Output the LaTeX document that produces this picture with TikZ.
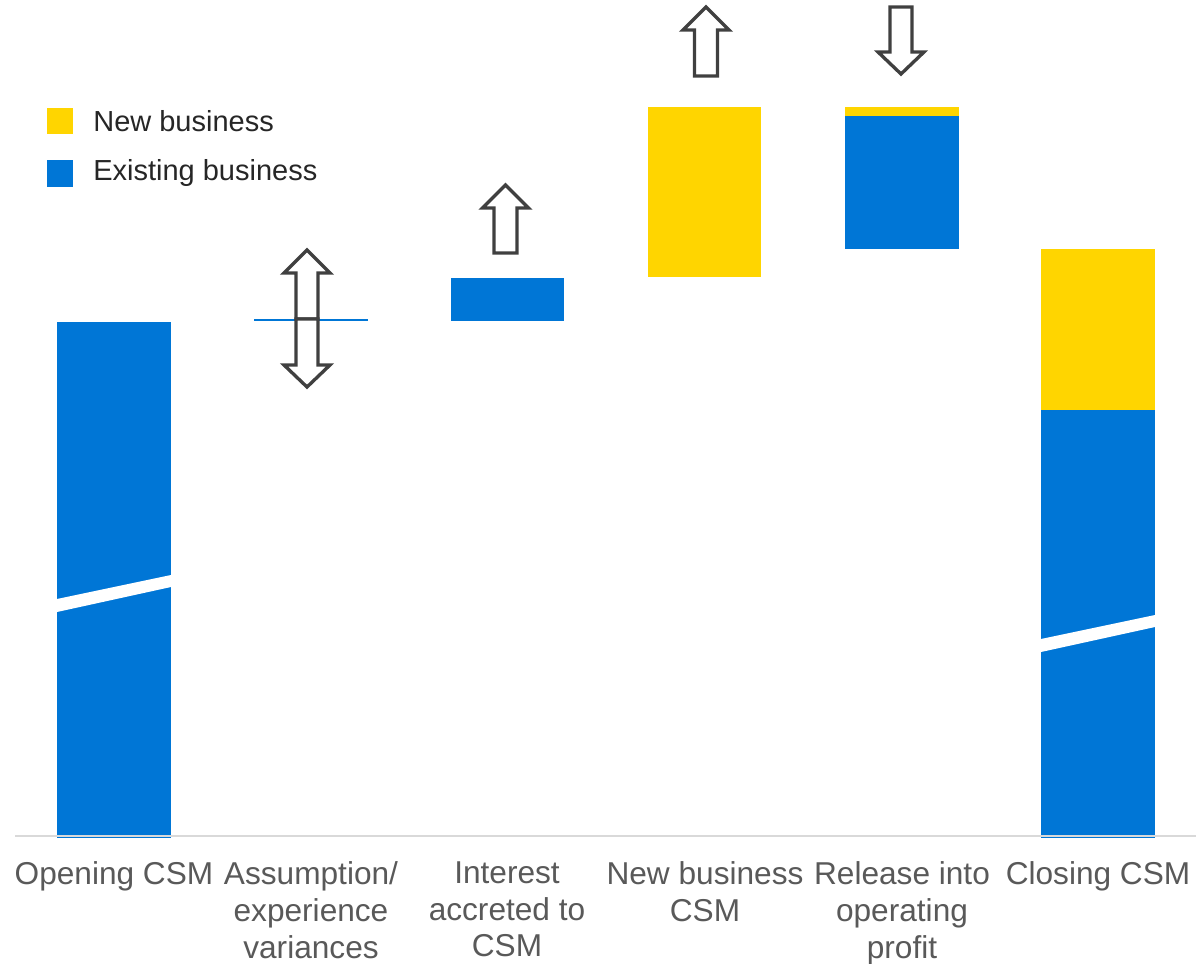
\documentclass[tikz,border=0pt]{standalone}
\usepackage{fontspec}
\setmainfont{Liberation Sans}
\usetikzlibrary{positioning}

\definecolor{csmblue}{RGB}{0,118,214}
\definecolor{csmyellow}{RGB}{255,213,0}
\definecolor{axisgray}{RGB}{217,217,217}
\definecolor{labelgray}{RGB}{89,89,89}
\definecolor{arrowgray}{RGB}{64,64,64}

\tikzset{
    newbiz/.style={fill=csmyellow, draw=none},
    oldbiz/.style={fill=csmblue, draw=none},
    outline/.style={draw=arrowgray, fill=white, line width=1.9pt, line join=miter},
    catlabel/.style={anchor=north, align=center, inner sep=0pt, text=labelgray,
        font=\fontsize{18}{21}\selectfont},
    legtext/.style={anchor=west, inner sep=0pt, text={black!85},
        font=\fontsize{16.5}{19}\selectfont}
}

\begin{document}
\begin{tikzpicture}[x=0.02cm, y=-0.02cm]
        \useasboundingbox (0,0) rectangle (1196,963);

        % Legende
        \fill[newbiz] (47,108) rectangle (73,134);
        \fill[oldbiz] (47,160) rectangle (73,187);
        \node[legtext] (lnew) at (93,121) {New business};
        \node[legtext] (lold) at (93,173) {Existing business};

        % Barras
        \fill[oldbiz] (57,322) rectangle (171,838);
        \fill[white] (57,599) -- (171,575) -- (171,587) -- (57,612) -- cycle;
        \draw[csmblue, line width=1.2pt] (254,320) -- (368,320);
        \fill[oldbiz] (451,278) rectangle (564,321);
        \fill[newbiz] (648,107) rectangle (761,277);
        \fill[newbiz] (845,107) rectangle (959,116);
        \fill[oldbiz] (845,116) rectangle (959,249);
        \fill[newbiz] (1041,249) rectangle (1155,410);
        \fill[oldbiz] (1041,410) rectangle (1155,838);
        \fill[white] (1041,639) -- (1155,615) -- (1155,627) -- (1041,652) -- cycle;

        % Eje
        \draw[axisgray, line width=1.2pt] (15,836) -- (1196,836);

        % Flechas
        \draw[outline] (307,250) -- ++(23,23) -- ++(-12,0) -- ++(0,46) -- ++(-22,0)
            -- ++(0,-46) -- ++(-12,0) -- cycle;
        \draw[outline] (307,387) -- ++(23,-22) -- ++(-12,0) -- ++(0,-46) -- ++(-22,0)
            -- ++(0,46) -- ++(-12,0) -- cycle;
        \draw[outline] (505.5,185) -- ++(23,23) -- ++(-11.5,0) -- ++(0,45) -- ++(-23,0)
            -- ++(0,-45) -- ++(-11.5,0) -- cycle;
        \draw[outline] (706,7) -- ++(23,23) -- ++(-11.5,0) -- ++(0,46) -- ++(-23,0)
            -- ++(0,-46) -- ++(-11.5,0) -- cycle;
        \draw[outline] (901,74) -- ++(23,-22) -- ++(-12,0) -- ++(0,-45) -- ++(-22,0)
            -- ++(0,45) -- ++(-12,0) -- cycle;

        % Etiquetas
        \node[catlabel] (open) at (114,861) {Opening CSM};
        \node[catlabel] (assum) at (311,861) {Assumption/\\experience\\variances};
        \node[catlabel] (inter) at (507,861) {Interest\\accreted to\\CSM};
        \node[catlabel] (newcsm) at (705,861) {New business\\CSM};
        \node[catlabel] (release) at (902,861) {Release into\\operating\\profit};
        \node[catlabel] (close) at (1098,861) {Closing CSM};
    \end{tikzpicture}
\end{document}
